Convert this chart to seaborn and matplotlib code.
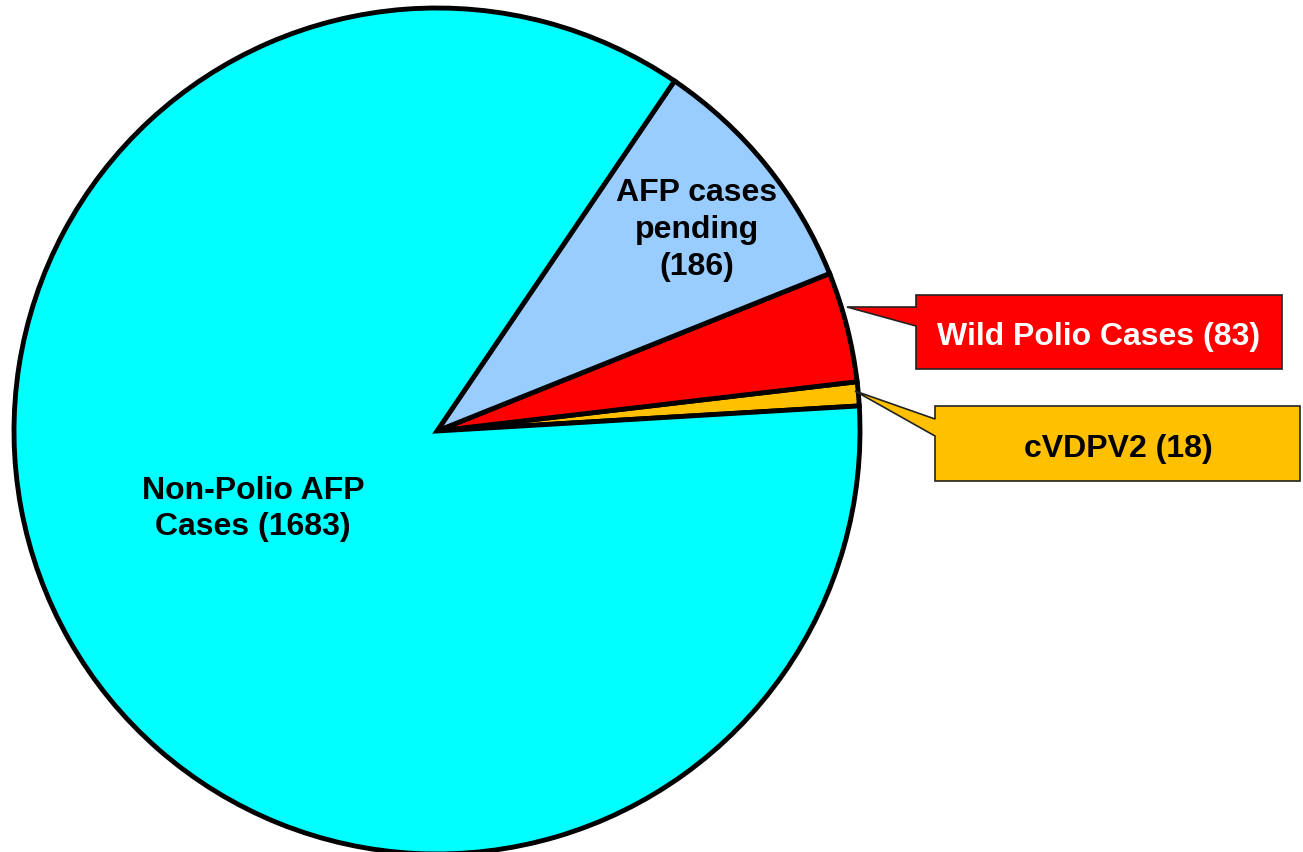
import matplotlib
matplotlib.use("Agg")
import matplotlib.pyplot as plt
import seaborn as sns
from matplotlib.patches import Polygon

# data
categories = ["cVDPV2", "Wild Polio Cases", "AFP cases pending", "Non-Polio AFP Cases"]
values = [18, 83, 186, 1683]
colors = ["#FFC000", "#FF0000", "#99CCFF", "#00FFFF"]

sns.set_style("white")
plt.rcParams['font.family'] = ['Liberation Sans', 'DejaVu Sans']
plt.rcParams['text.color'] = 'black'

W, H = 1303, 853


def fy(y):
    # image pixel row -> data y
    return H - y


def main():
    fig = plt.figure(figsize=(W / 100, H / 100), dpi=100)
    ax = fig.add_axes([0, 0, 1, 1])

    ax.pie(values, colors=colors, startangle=3.4, counterclock=True,
           center=(437, fy(432)), radius=423,
           wedgeprops=dict(edgecolor='black', linewidth=3.5))

    ax.set_xlim(0, W)
    ax.set_ylim(0, H)
    ax.set_aspect('equal')
    ax.axis('off')

    # labels inside the pie
    ax.text(253, fy(509), "Non-Polio AFP\nCases (1683)", ha='center', va='center',
            fontsize=23, fontweight='bold', linespacing=1.3, color='black')
    ax.text(697, fy(230), "AFP cases\npending\n(186)", ha='center', va='center',
            fontsize=23, fontweight='bold', linespacing=1.3, color='black')

    # callout boxes
    red = [(916, 296), (1282, 296), (1282, 370), (916, 370), (916, 327),
           (847, 308), (916, 308)]
    gold = [(935, 407), (1300, 407), (1300, 482), (935, 482), (935, 437),
            (855, 392), (935, 420)]
    for pts, col in [(red, "#FF0000"), (gold, "#FFC000")]:
        ax.add_patch(Polygon([(x, fy(y)) for x, y in pts], closed=True,
                             facecolor=col, edgecolor='#222222', linewidth=1.2,
                             zorder=5))

    ax.text(1099, fy(337), "Wild Polio Cases (83)", ha='center', va='center',
            fontsize=23, fontweight='bold', color='white', zorder=6)
    ax.text(1118, fy(449), "cVDPV2 (18)", ha='center', va='center',
            fontsize=23, fontweight='bold', color='black', zorder=6)

    fig.savefig("out.png", dpi=100, facecolor='white')


if __name__ == "__main__":
    main()
